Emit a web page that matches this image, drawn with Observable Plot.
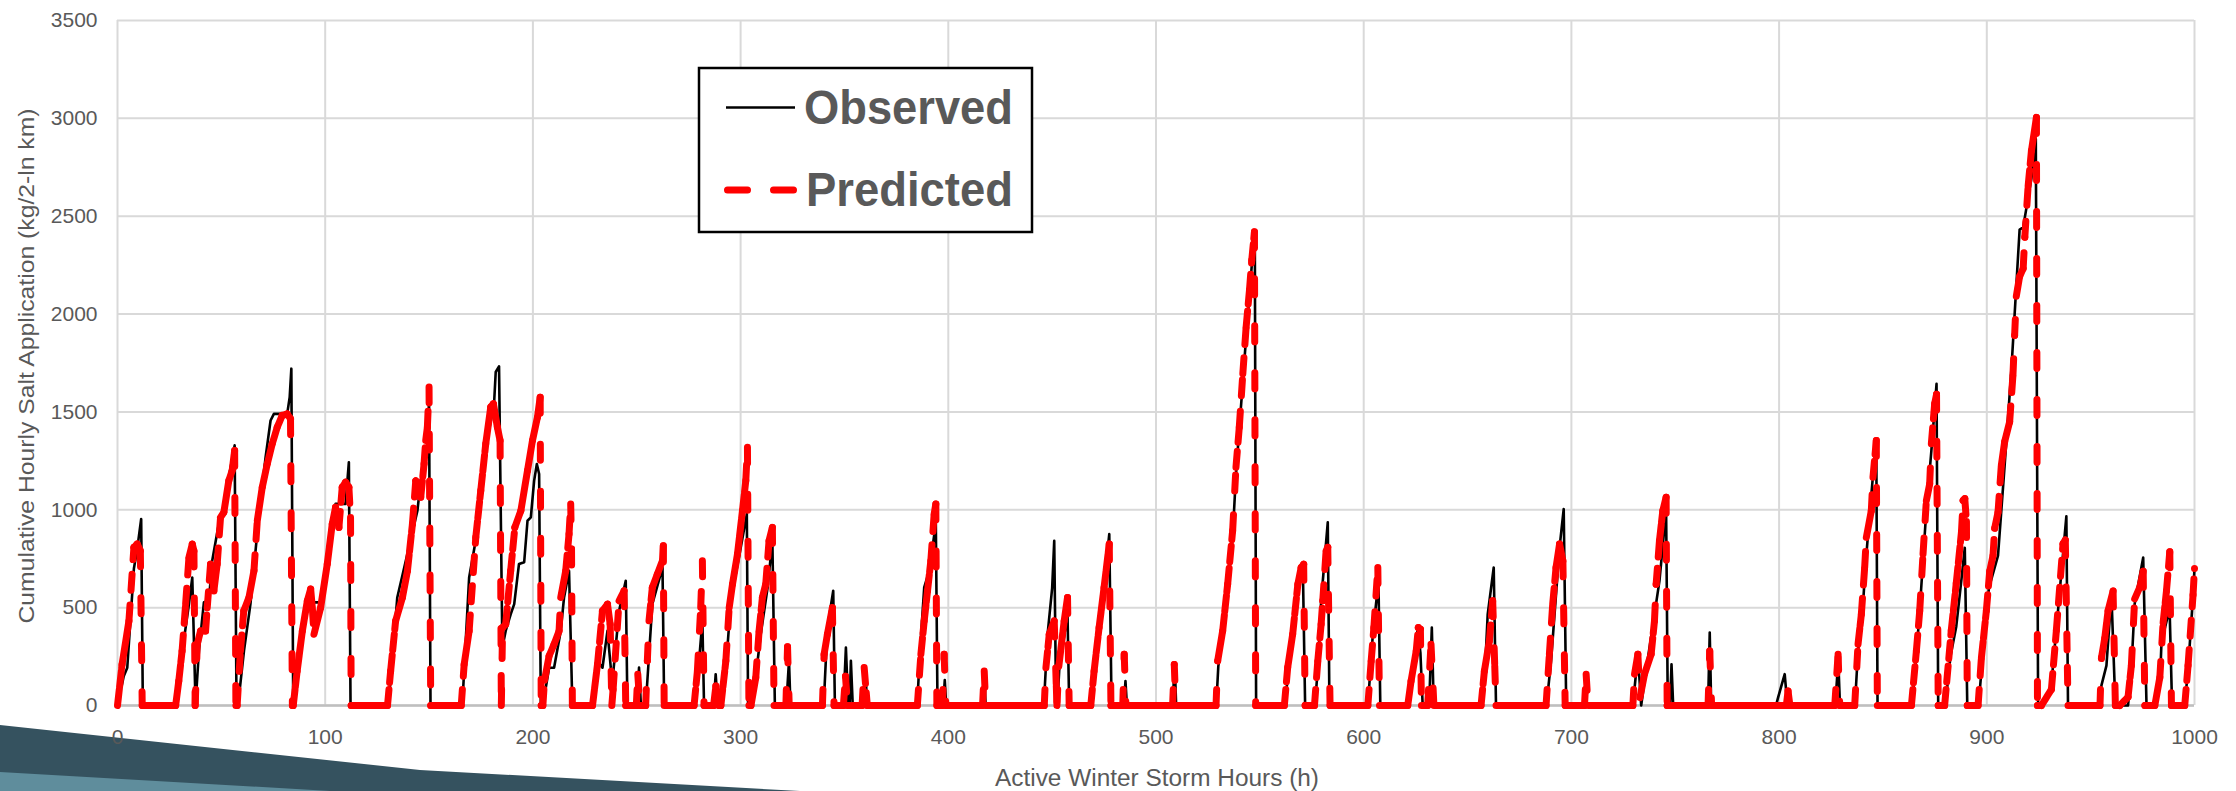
<!DOCTYPE html>
<html><head><meta charset="utf-8">
<script src="https://cdn.jsdelivr.net/npm/d3@7"></script>
<script src="https://cdn.jsdelivr.net/npm/@observablehq/plot@0.6"></script>
<style>
html,body{margin:0;padding:0;background:#fff;}
#wrap{position:relative;width:2236px;height:791px;overflow:hidden;background:#fff;}
#bg,#chart,#overlay{position:absolute;left:0;top:0;}
#overlay{pointer-events:none;}
</style></head><body>
<div id="wrap">
<svg id="bg" width="2236" height="791">
  <polygon points="0,725 420,770 800,791 0,791" fill="#35525f"/>
  <polygon points="0,772 330,791 0,791" fill="#5f8d9c"/>
</svg>
<div id="chart"></div>
<svg id="overlay" width="2236" height="791" font-family="'Liberation Sans', Arial, sans-serif">
  <text transform="translate(34,366) rotate(-90)" text-anchor="middle" font-size="22" fill="#595959" textLength="515" lengthAdjust="spacingAndGlyphs">Cumulative Hourly Salt Application (kg/2-ln km)</text>
  <text x="1157" y="786" text-anchor="middle" font-size="23" fill="#595959" textLength="324" lengthAdjust="spacingAndGlyphs">Active Winter Storm Hours (h)</text>
  <rect x="699" y="68" width="333" height="164" fill="#fff" stroke="#000" stroke-width="2.5"/>
  <line x1="726" y1="107.6" x2="795" y2="107.6" stroke="#000" stroke-width="2.5"/>
  <text x="804" y="124" font-size="49" font-weight="bold" fill="#595959" textLength="209" lengthAdjust="spacingAndGlyphs">Observed</text>
  <line x1="727.5" y1="190" x2="793.5" y2="190" stroke="#ff0000" stroke-width="7" stroke-linecap="round" stroke-dasharray="20 26"/>
  <text x="806" y="206" font-size="49" font-weight="bold" fill="#595959" textLength="207" lengthAdjust="spacingAndGlyphs">Predicted</text>
</svg>
</div>
<script>
const xTicks = [0,100,200,300,400,500,600,700,800,900,1000];
const yTicks = [0,500,1000,1500,2000,2500,3000,3500];

const obsHours = [0,3,4.7,7.9,9.5,11.4,12.2,
28,30.3,34.4,36,37.6,
37.9,39.2,41.6,44,45.6,49.6,52,53.6,56.4,57.3,
58,60.9,64,68,71.3,73.7,75.3,81.7,82.9,83.7,84.6,
85,87,91.4,93,98.6,105,109.8,111.4,112.2,
130,131.5,134.7,144.4,146,149.2,150,150.7,
166,167,169.3,173.3,177.3,181.3,182.1,183.7,185.3,186.9,189.3,191,193.3,195.8,197.4,199,200.6,201.9,203,203.8,
205.4,207.8,210.2,213.4,215,217.4,219,
229,231.1,233.5,235.9,237.5,238.3,241.5,244.7,245.5,
250,251.1,252,
254.3,255.1,257.5,262.4,263.2,
278,279.2,281.6,282.4,
287,288,289,
291,293,295.3,300.1,303,303.6,
305,307,309.7,313,315.3,316.5,
322,323.3,324,
340,341.8,344.6,345.4,
349.5,350.7,351.8,352.5,353.1,354,
359,360,361,
385,386.5,388.4,390.8,394,394.8,
397.5,398.3,399,
416.5,417.3,418,
446,447.8,450,451,451.8,452.5,453.5,457.4,458.2,
468.6,470.2,477.5,478.6,
484.5,485.3,486,
508,509,509.7,
529,530,532,534.5,537,538.5,540,542,543.5,545,546.5,547.6,548.2,
562,564,566,568.3,570.7,571.8,
576.5,578,579.5,582.7,583.5,
602,604.4,607.1,608,
621,623,626,627.3,628.4,
631.5,632.8,633.7,
657,658.5,659.7,662.6,663.7,
688,690.2,694.3,696.3,697.5,
729.6,732,733.6,735.2,742.4,745.6,746.4,
747.5,748.2,749,
765.8,766.6,767.3,
798.5,799.5,802.7,804,
827,828.5,829.3,
836.5,838,840,841.5,843,845,846.8,847.4,
864,866,867.7,870.9,873.3,875.8,876.6,
880,882.5,885.3,887.8,889.4,890.6,
896,898,901,905.4,908.6,911.8,915.8,917.5,921.5,923.6,924.7,
927,931,934,938.3,939.1,
954.5,955.2,957.6,960,961.9,
968,969.6,971.2,975.3,976.9,
981,983.5,984.1,987.3,988,989.2,
995.3,997,999.3,1000];
const obsValues = [0,150,193,700,800,953,0,
0,210,518,654,0,
60,279,527,535,740,978,995,1166,1329,0,
0,279,518,961,1269,1456,1490,1490,1575,1721,0,
0,200,518,527,527,1030,1030,1243,0,
0,125,552,995,1149,1320,1560,0,
0,200,654,893,1320,1542,1704,1733,296,381,466,518,723,732,944,961,1149,1234,1183,0,
40,193,193,381,552,688,0,
0,228,193,381,193,125,484,637,0,
0,194,0,
0,125,518,705,0,
0,125,432,0,
0,160,0,
0,200,535,808,979,0,
0,120,364,603,842,0,
0,230,0,
0,398,586,0,
0,296,0,0,228,0,
0,180,0,
0,300,603,688,930,0,
0,130,0,
0,150,0,
0,364,600,842,100,0,200,466,0,
0,142,876,0,
0,125,0,
0,220,0,
0,200,370,600,880,1180,1400,1680,1900,2100,2300,2330,0,
0,200,380,620,705,0,
0,200,535,936,0,
0,364,637,0,
0,150,390,270,0,
0,398,0,
0,200,466,705,0,
0,227,808,1004,0,
0,262,0,125,637,1000,0,
0,210,0,
0,373,0,
0,40,160,0,
0,230,0,
0,280,450,700,900,1150,1330,0,
0,250,484,1000,1300,1644,0,
0,250,404,645,806,0,
0,250,600,766,1228,1710,2432,2443,2694,2895,0,
0,100,450,967,0,
0,103,204,565,0,
0,180,520,756,0,
0,150,323,464,500,0,
0,200,560,700];

const predHours = [0,2.2,5.5,7.9,9.5,11,11.9,
28,29.5,31.1,32.8,34.4,36,36.8,37.4,
38.4,40,42.4,43.2,44.8,46.4,48,49.6,51.2,53.6,55.2,56.4,57,
57.6,59.2,60.8,63.3,65.7,67.3,69.7,72.1,74.5,76.9,79.3,81.7,83.3,84.2,
84.6,86.5,89,91.4,93,93.8,94.6,97.8,101,103.4,105,106.6,108.2,109.8,111.4,112.2,112.5,
130,131.5,133.9,137.2,139.6,142,143.6,145.2,146,147.6,148.4,149.2,150,150.8,
165.5,166.9,169.3,172.5,174.9,177.3,179.7,181,182.9,184.2,184.8,185.4,186.9,189.3,191.3,194.2,197.4,199.8,202.2,203.5,204,
204.8,205.6,207.8,210.2,212.6,213.4,215.8,217.4,218.2,218.6,219,
228.7,231.1,233.5,235.9,237.2,238,238.6,241.5,243.9,244.7,
249.8,250.5,251.5,
254.3,255.1,255.9,257.5,259.9,262.4,262.8,263.2,
277.6,279.2,280.8,281.6,282.4,
287,288.1,289.5,
290.5,292.9,294.5,296.1,298.5,300.9,302.5,303.3,304,
305,307.3,308.9,310.5,312.1,313.7,315.3,316.1,
321.8,322.6,323.4,
339.4,340.2,341.8,344.2,345,
349.5,350.5,351.5,
358.5,359.5,361,
385.1,386.8,388.4,390,391.6,393.2,394,394.5,
397.2,398,398.8,
416.5,417.3,418,
446.2,447,448.6,451,452.3,453.2,455.8,457.4,458.2,
468.6,470.2,472.6,475,477.5,478.3,
484,484.7,485.5,
508,508.8,509.5,
528.9,529.7,532.1,534.5,536.9,538.5,540.1,541.8,543.4,545,546.1,547.4,548,
561.8,563.4,565.8,568.3,569.9,571.1,571.8,
576.3,577.9,579.5,580.3,581.9,582.7,583.8,
602,603.6,604.9,606.8,607.6,
621.2,622.8,625.3,626.3,627.3,627.8,
630.8,632.4,633.8,
656.5,658.1,660.5,662.1,663.7,
687.8,689.4,691,692.6,694.3,695.9,697,
706.3,707.1,708,
729.6,730.4,732,733,735.2,738.4,740,740.8,742.4,744,745.6,746.1,
765.8,766.6,767.5,
803.5,804.3,805.2,
826.8,828.4,829.2,
836.4,838,839.6,841.2,842,844.4,845.2,846.8,847.3,
863.7,866.1,867.7,869.3,870.9,872.5,873.3,874.9,875.8,876.6,
879.7,882.9,885.3,887.8,888.6,889.4,890.2,890.6,
895.8,897.4,899.8,901.4,903,903.8,905.4,907,908.6,911,912.6,913.4,914.2,915.8,917.5,918.3,919.9,921.5,923.9,924.4,
926.3,931.1,933.5,936.7,937.8,939.1,
954.5,955.2,956.8,958.4,960.8,961.9,
964,968,969.6,971.2,973.7,975.3,976.1,
980.9,983.3,984.9,986.5,988.1,988.9,
995.3,996.9,999.3,1000];
const predValues = [0,210,432,808,825,791,0,
0,125,279,518,757,825,790,0,
313,381,381,500,723,586,723,961,987,1149,1200,1303,0,
0,279,484,552,689,944,1115,1234,1337,1422,1482,1490,1465,0,
0,176,381,535,595,500,364,500,723,928,1013,910,1115,1141,1115,961,0,
0,176,432,552,688,927,1149,1132,1064,1235,1354,1422,1627,0,
0,210,381,859,1098,1337,1525,1542,1422,1354,0,398,415,688,910,995,1200,1354,1473,1575,0,
0,130,253,313,381,552,688,876,1030,800,0,
0,210,484,518,415,0,80,535,586,0,
0,160,0,
0,228,433,603,671,740,816,0,
0,176,501,740,0,
0,100,0,
0,228,500,620,774,995,1149,1320,0,
0,142,381,552,620,842,910,0,
0,300,0,
0,262,364,500,0,
0,150,0,
0,194,0,
0,262,432,586,740,979,1030,0,
0,262,0,
0,176,0,
0,193,364,432,0,200,432,552,0,
0,176,398,603,825,0,
0,262,0,
0,210,0,
0,228,381,620,893,1217,1422,1695,1934,2122,2275,2420,0,
0,194,364,620,705,722,0,
0,228,415,535,791,808,0,
0,228,398,705,0,
0,125,279,398,390,0,
0,313,0,
0,176,330,535,0,
0,262,518,705,825,739,0,
0,160,0,
0,160,262,40,160,262,432,620,842,995,1064,0,
0,279,0,
0,74,0,
0,262,0,
0,313,466,705,859,995,1166,1354,0,
0,279,484,774,1047,1132,1337,1542,1590,0,
0,384,625,886,1047,1057,940,0,
0,244,485,686,766,906,987,1228,1348,1449,1690,1891,2091,2192,2232,2393,2654,2835,3005,0,
0,82,384,826,846,0,
0,244,344,485,585,0,
0,43,204,545,605,686,0,
0,143,424,585,786,0,
0,204,565,700];

const observed = obsHours.map((h, i) => ({h, v: obsValues[i]}));
const segs = d3.range(predHours.length - 1).map(i => ({
  x1: predHours[i], y1: predValues[i], x2: predHours[i + 1], y2: predValues[i + 1]
}));

const chart = Plot.plot({
  width: 2236,
  height: 791,
  marginLeft: 117,
  marginRight: 42,
  marginTop: 20,
  marginBottom: 86,
  x: {domain: [0, 1000], ticks: xTicks, tickSize: 0, tickPadding: 24, tickFormat: d => String(d), label: null},
  y: {domain: [0, 3500], ticks: yTicks, tickSize: 0, tickPadding: 20, tickFormat: d => String(d), label: null},
  style: {fontFamily: "'Liberation Sans', Arial, sans-serif", fontSize: "21px", color: "#595959", background: "transparent", maxWidth: "none", overflow: "visible"},
  marks: [
    Plot.ruleX(xTicks, {stroke: "#d9d9d9", strokeWidth: 2, strokeOpacity: 1}),
    Plot.ruleY(yTicks, {stroke: "#d9d9d9", strokeWidth: 2, strokeOpacity: 1}),
    Plot.ruleY([0], {stroke: "#bfbfbf", strokeWidth: 2.5}),
    Plot.line(observed, {x: "h", y: "v", stroke: "#000", strokeWidth: 2.6, strokeLinejoin: "round"}),
    Plot.link(segs, {x1: "x1", y1: "y1", x2: "x2", y2: "y2", stroke: "#ff0000", strokeWidth: 7, strokeLinecap: "round", strokeOpacity: 1})
  ]
});
document.getElementById("chart").appendChild(chart);

// Excel-style dash: the pattern restarts at every hourly step of the series
const DASH = 16, GAP = 31;
function hourPattern(l) {
  const arr = [];
  let pos = 0;
  while (pos + DASH + GAP <= l) { arr.push(DASH, GAP); pos += DASH + GAP; }
  const rem = l - pos;
  if (rem > DASH) arr.push(DASH, rem - DASH);
  else if (rem > 0) arr.push(rem, 0);
  return arr;
}
const linkPaths = d3.select(chart).selectAll("g[aria-label='link'] path").nodes();
linkPaths.forEach((p, i) => {
  const s = segs[i];
  if (!s) return;
  const L = p.getTotalLength();
  const hours = Math.max(1, s.x2 - s.x1);
  const pat = hourPattern(L / hours);
  if (pat.length) p.setAttribute("stroke-dasharray", pat.map(v => v.toFixed(2)).join(","));
});
</script>
</body></html>
